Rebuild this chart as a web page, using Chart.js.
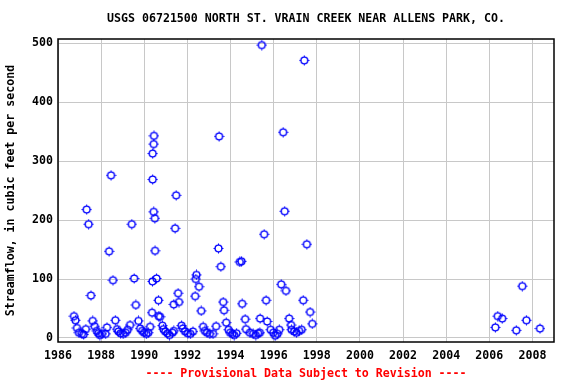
<!DOCTYPE html>
<html>
<head>
<meta charset="utf-8">
<script src="https://cdn.jsdelivr.net/npm/chart.js@4/dist/chart.umd.min.js"></script>
<style>
  html, body { margin: 0; padding: 0; background: #fff; }
  #wrap { width: 576px; height: 384px; }
</style>
</head>
<body>
<div id="wrap"><canvas id="flowChart" width="576" height="384"></canvas></div>
<script>
const chartTitle = "USGS 06721500 NORTH ST. VRAIN CREEK NEAR ALLENS PARK, CO.";
const footerNote = "---- Provisional Data Subject to Revision ----";
const yAxisLabel = "Streamflow, in cubic feet per second";

const yearTicks = [1986, 1988, 1990, 1992, 1994, 1996, 1998, 2000, 2002, 2004, 2006, 2008];
const flowTicks = [0, 100, 200, 300, 400, 500];

// measurement dates (decimal years) and streamflow, ft3/s
const sampleYears = [
  1986.74, 1986.81, 1986.88, 1986.97, 1987.11, 1987.19, 1987.29, 1987.33, 1987.42, 1987.53,
  1987.61, 1987.70, 1987.80, 1987.87, 1987.94, 1988.04, 1988.21, 1988.27, 1988.37, 1988.46,
  1988.55, 1988.66, 1988.74, 1988.80, 1988.90, 1989.02, 1989.14, 1989.23, 1989.34, 1989.42,
  1989.53, 1989.61, 1989.73, 1989.81, 1989.90, 1989.99, 1990.10, 1990.19, 1990.27, 1990.36,
  1990.38, 1990.39, 1990.39, 1990.44, 1990.45, 1990.44, 1990.49, 1990.50, 1990.57, 1990.66,
  1990.67, 1990.73, 1990.84, 1990.89, 1990.97, 1991.08, 1991.17, 1991.31, 1991.37, 1991.37,
  1991.43, 1991.48, 1991.57, 1991.61, 1991.73, 1991.79, 1991.89, 1992.02, 1992.14, 1992.26,
  1992.36, 1992.39, 1992.42, 1992.54, 1992.64, 1992.73, 1992.81, 1992.91, 1993.04, 1993.19,
  1993.33, 1993.44, 1993.47, 1993.55, 1993.66, 1993.70, 1993.80, 1993.91, 1993.98, 1994.09,
  1994.17, 1994.28, 1994.43, 1994.51, 1994.54, 1994.68, 1994.72, 1994.90, 1995.05, 1995.17,
  1995.28, 1995.36, 1995.37, 1995.45, 1995.56, 1995.65, 1995.70, 1995.86, 1995.98, 1996.07,
  1996.18, 1996.26, 1996.35, 1996.44, 1996.51, 1996.57, 1996.72, 1996.81, 1996.83, 1996.95,
  1997.06, 1997.18, 1997.30, 1997.37, 1997.42, 1997.54, 1997.69, 1997.79,
  2006.28, 2006.39, 2006.60, 2007.25, 2007.53, 2007.72, 2008.35
];
const sampleFlows = [
  37, 30, 17, 9, 7, 6, 15, 218, 193, 72,
  29, 20, 12, 8, 5, 7, 7, 18, 147, 276,
  98, 30, 15, 11, 8, 7, 9, 14, 22, 193,
  101, 56, 29, 16, 12, 9, 7, 9, 19, 43,
  96, 313, 269, 329, 343, 214, 203, 148, 101, 64,
  37, 36, 21, 15, 11, 8, 5, 9, 12, 57,
  186, 242, 76, 61, 21, 16, 11, 8, 7, 11,
  71, 100, 107, 87, 46, 19, 12, 9, 7, 7,
  20, 152, 342, 121, 61, 47, 26, 14, 9, 7,
  5, 8, 129, 130, 58, 32, 15, 9, 7, 5,
  8, 9, 33, 497, 176, 64, 28, 14, 9, 4,
  7, 14, 91, 349, 215, 80, 33, 22, 14, 11,
  9, 12, 14, 64, 471, 159, 44, 24,
  18, 37, 33, 13, 88, 30, 16
];

const FONT = "bold 11.6px 'DejaVu Sans Mono', monospace";

// open blue circle with the little tick marks on top/bottom/left/right
function makeMarker() {
  const c = document.createElement("canvas");
  c.width = 11;
  c.height = 11;
  const g = c.getContext("2d");
  g.strokeStyle = "#0000ff";
  g.lineWidth = 1.4;
  g.beginPath();
  g.arc(5.5, 5.5, 3.4, 0, Math.PI * 2);
  g.stroke();
  g.lineWidth = 1;
  g.beginPath();
  g.moveTo(5.5, 0.5); g.lineTo(5.5, 2);
  g.moveTo(5.5, 9); g.lineTo(5.5, 10.5);
  g.moveTo(0.5, 5.5); g.lineTo(2, 5.5);
  g.moveTo(9, 5.5); g.lineTo(10.5, 5.5);
  g.stroke();
  return c;
}

const frameAndText = {
  id: "frameAndText",
  beforeDatasetsDraw(chart) {
    const { ctx, chartArea: a } = chart;
    ctx.save();
    ctx.strokeStyle = "#000";
    ctx.lineWidth = 1.5;
    ctx.strokeRect(a.left, a.top, a.right - a.left, a.bottom - a.top);
    ctx.restore();
  },
  afterDraw(chart) {
    const { ctx, chartArea: a } = chart;
    const cx = (a.left + a.right) / 2;
    ctx.save();
    ctx.font = FONT;
    ctx.textAlign = "center";
    ctx.textBaseline = "middle";
    ctx.fillStyle = "#000";
    ctx.fillText(chartTitle, cx, 19);
    ctx.fillStyle = "#ff0000";
    ctx.fillText(footerNote, cx, 374);
    ctx.restore();
  }
};

const points = sampleYears.map((yr, i) => ({ x: yr, y: sampleFlows[i] }));

new Chart(document.getElementById("flowChart"), {
  type: "scatter",
  data: {
    datasets: [{
      data: points,
      pointStyle: makeMarker(),
      pointRadius: 5,
      backgroundColor: "transparent",
      borderColor: "#0000ff"
    }]
  },
  options: {
    responsive: false,
    animation: false,
    events: [],
    layout: { padding: { top: 39, right: 22, left: 0, bottom: 0 } },
    plugins: {
      legend: { display: false },
      tooltip: { enabled: false }
    },
    scales: {
      x: {
        type: "linear",
        min: 1986,
        max: 2009,
        afterBuildTicks: s => { s.ticks = yearTicks.map(v => ({ value: v })); },
        afterFit: s => { s.height = 42; },
        grid: { color: "#c8c8c8", lineWidth: 1, drawTicks: false },
        border: { display: false },
        ticks: {
          padding: 7,
          color: "#000",
          font: { family: "'DejaVu Sans Mono', monospace", size: 11.6, weight: "bold" },
          maxRotation: 0,
          callback: v => String(v)
        }
      },
      y: {
        min: -6.8,
        max: 507.3,
        afterBuildTicks: s => { s.ticks = flowTicks.map(v => ({ value: v })); },
        afterFit: s => { s.width = 58; },
        grid: { color: "#c8c8c8", lineWidth: 1, drawTicks: false },
        border: { display: false },
        ticks: {
          padding: 5,
          color: "#000",
          font: { family: "'DejaVu Sans Mono', monospace", size: 11.6, weight: "bold" },
          callback: v => String(v)
        },
        title: {
          display: true,
          text: yAxisLabel,
          color: "#000",
          font: { family: "'DejaVu Sans Mono', monospace", size: 11.6, weight: "bold" },
          padding: { top: 4, bottom: 0 }
        }
      }
    }
  },
  plugins: [frameAndText]
});
</script>
</body>
</html>
